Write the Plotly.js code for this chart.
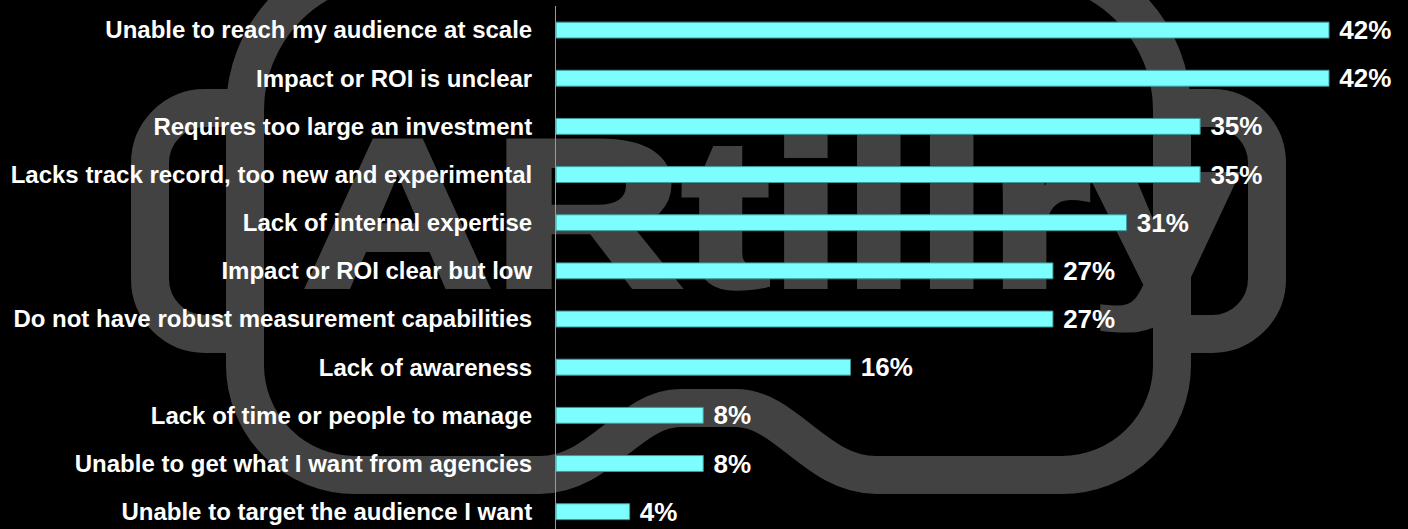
<!DOCTYPE html>
<html>
<head>
<meta charset="utf-8">
<script src="https://cdn.plot.ly/plotly-3.0.1.min.js"></script>
<style>html,body{margin:0;padding:0;background:#000;}#chart{width:1408px;height:529px;}</style>
</head>
<body>
<div id="chart"></div>
<script>
// Data (top to bottom)
const categories = [
  "Unable to reach my audience at scale",
  "Impact or ROI is unclear",
  "Requires too large an investment",
  "Lacks track record, too new and experimental",
  "Lack of internal expertise",
  "Impact or ROI clear but low",
  "Do not have robust measurement capabilities",
  "Lack of awareness",
  "Lack of time or people to manage",
  "Unable to get what I want from agencies",
  "Unable to target the audience I want"
];
const values = [42, 42, 35, 35, 31, 27, 27, 16, 8, 8, 4];
const valueLabels = values.map(v => "\u00a0" + v + "%");

// Watermark logo (decorative background)
const logoSvg = `<svg xmlns="http://www.w3.org/2000/svg" width="1408" height="529" viewBox="0 0 1408 529">
<g fill="none" stroke="#424242" stroke-width="38" stroke-linejoin="round">
<path d="M 245 256 L 245 110 A 146 146 0 0 1 391 -36 L 1026 -36 A 146 146 0 0 1 1172 110 L 1172 365 A 110 110 0 0 1 1062 475 L 876 475 C 816 475 786 408 736 408 L 680 408 C 630 408 600 475 540 475 L 355 475 A 110 110 0 0 1 245 365 Z"/>
<path d="M 245 108 L 205 108 A 55 55 0 0 0 150 163 L 150 279 A 55 55 0 0 0 205 334 L 245 334"/>
<path d="M 1172 108 L 1212 108 A 55 55 0 0 1 1267 163 L 1267 279 A 55 55 0 0 1 1212 334 L 1172 334"/>
</g>
<g transform="translate(303 286) scale(1.25 1)">
<text x="0" y="0" font-family="Liberation Sans, Arial, sans-serif" font-weight="bold" font-size="210" fill="#424242" stroke="#424242" stroke-width="6">ARtillry</text>
</g>
</svg>`;
const logoUri = "data:image/svg+xml;charset=utf-8," + encodeURIComponent(logoSvg);

const W = 1408, H = 529;
const margin = {l: 556, r: 0, t: 6, b: 0};
const pw = W - margin.l - margin.r, ph = H - margin.t - margin.b;

const trace = {
  type: "bar",
  orientation: "h",
  x: values,
  y: categories,
  width: 0.33,
  marker: {color: "#7cfdfe", line: {color: "#3f9a9b", width: 1}},
  text: valueLabels,
  textposition: "outside",
  constraintext: "none",
  cliponaxis: false,
  textfont: {family: "Liberation Sans, Arial, sans-serif", size: 26, color: "#ffffff", weight: "bold"},
  hoverinfo: "none"
};

const layout = {
  width: W, height: H,
  margin: margin,
  paper_bgcolor: "#000000",
  plot_bgcolor: "rgba(0,0,0,0)",
  showlegend: false,
  xaxis: {
    range: [0, pw / (773 / 42)],
    showgrid: false, zeroline: false, showline: false, showticklabels: false, ticks: ""
  },
  yaxis: {
    type: "category",
    range: [10.36, -0.5],
    showgrid: false, zeroline: false,
    showline: true, linecolor: "#9a9a9a", linewidth: 1,
    ticks: "", ticklabelstandoff: 18,
    tickfont: {family: "Liberation Sans, Arial, sans-serif", size: 24, color: "#ffffff", weight: "bold"},
    automargin: false
  },
  images: [{
    source: logoUri,
    xref: "paper", yref: "paper",
    x: -margin.l / pw, y: 1 + margin.t / ph,
    sizex: W / pw, sizey: H / ph,
    xanchor: "left", yanchor: "top",
    sizing: "stretch", layer: "below"
  }]
};

Plotly.newPlot("chart", [trace], layout, {displayModeBar: false, staticPlot: true});
</script>
</body>
</html>
